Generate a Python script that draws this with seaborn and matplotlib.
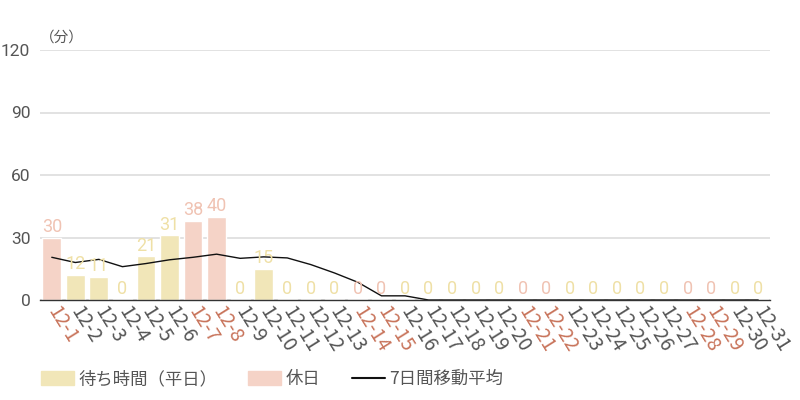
import matplotlib
matplotlib.use("Agg")
import matplotlib.pyplot as plt
import seaborn as sns
import pandas as pd
from matplotlib.patches import Patch
from matplotlib.lines import Line2D

dates = [f"12-{d}" for d in range(1, 32)]
waits = [30, 12, 11, 0, 21, 31, 38, 40, 0, 15, 0, 0, 0, 0, 0, 0,
         0, 0, 0, 0, 0, 0, 0, 0, 0, 0, 0, 0, 0, 0, 0]
holidays = ["12-1", "12-7", "12-8", "12-14", "12-15", "12-21", "12-22", "12-28", "12-29"]
moving_avg = [20.5, 18, 19.5, 16, 17.5, 19.3, 20.5, 22, 20, 20.7, 20.2, 17, 13, 8.5, 2, 2,
              0, 0, 0, 0, 0, 0, 0, 0, 0, 0, 0, 0, 0, 0, 0]
y_ticks = [0, 30, 60, 90, 120]

WEEKDAY = "平日"
HOLIDAY = "休日"
types = [HOLIDAY if d in holidays else WEEKDAY for d in dates]
df = pd.DataFrame({"date": dates, "wait": waits, "type": types, "ma": moving_avg})

c_week = "#f1e6b8"
c_hol = "#f5d3c7"
c_week_txt = "#efe0a6"
c_hol_txt = "#f0c3b3"
c_hol_tick = "#c8735a"
c_gray = "#555555"

sns.set_theme(style="white")
plt.rcParams["font.family"] = ["Roboto", "Noto Sans CJK JP", "DejaVu Sans"]

fig = plt.figure(figsize=(8, 4), dpi=100)
ax = fig.add_axes([0.05, 0.25, 0.9125, 0.625])

sns.barplot(data=df, x="date", y="wait", hue="type", order=dates,
            palette={WEEKDAY: c_week, HOLIDAY: c_hol}, dodge=False,
            width=0.8, legend=False, ax=ax, saturation=1)
for p in ax.patches:
    if p.get_height() == 0:
        p.set_height(0.6)

sns.lineplot(data=df, x="date", y="ma", color="#111111", linewidth=1.0, ax=ax,
             legend=False)

for i, (v, t) in enumerate(zip(waits, types)):
    ax.text(i, v + 0.8, str(v), ha="center", va="bottom", fontsize=13,
            color=c_hol_txt if t == HOLIDAY else c_week_txt)

ax.set_xlim(-0.5, len(dates) - 0.5)
ax.set_ylim(0, 120)
ax.set_yticks(y_ticks)
ax.set_yticklabels([str(v) for v in y_ticks], fontsize=12.5, color=c_gray)
ax.yaxis.grid(True, color="#dddddd", linewidth=1.2)
ax.set_axisbelow(True)
ax.set_xlabel("")
ax.set_ylabel("")
for s in ["top", "left", "right"]:
    ax.spines[s].set_visible(False)
ax.spines["bottom"].set_color("#333333")
ax.spines["bottom"].set_linewidth(1.0)
ax.tick_params(axis="y", length=0, pad=7)
ax.tick_params(axis="x", length=0, pad=6)

ax.set_xticks(range(len(dates)))
ax.set_xticklabels(dates, rotation=-58, ha="left", va="center",
                   rotation_mode="anchor", fontsize=14,
                   family=["Noto Sans CJK JP", "DejaVu Sans"])
for lbl, t in zip(ax.get_xticklabels(), types):
    lbl.set_color(c_hol_tick if t == HOLIDAY else c_gray)

ax.text(0.0, 1.02, "（分）", transform=ax.transAxes, fontsize=10.5, color=c_gray,
        ha="left", va="bottom", family=["Noto Sans CJK JP", "DejaVu Sans"])

handles = [Patch(color=c_week, label="待ち時間（平日）"),
           Patch(color=c_hol, label="休日"),
           Line2D([0], [0], color="#111111", linewidth=1.5, label="7日間移動平均")]
leg = fig.legend(handles=handles, loc="lower left", bbox_to_anchor=(0.04, 0.008),
                 ncol=3, frameon=False, handlelength=1.9, borderpad=0,
                 handleheight=0.8, columnspacing=1.8, handletextpad=0.25,
                 prop={"family": ["Noto Sans CJK JP", "DejaVu Sans"], "size": 12.5})
for t in leg.get_texts():
    t.set_color(c_gray)

fig.savefig("out.png", dpi=100)
